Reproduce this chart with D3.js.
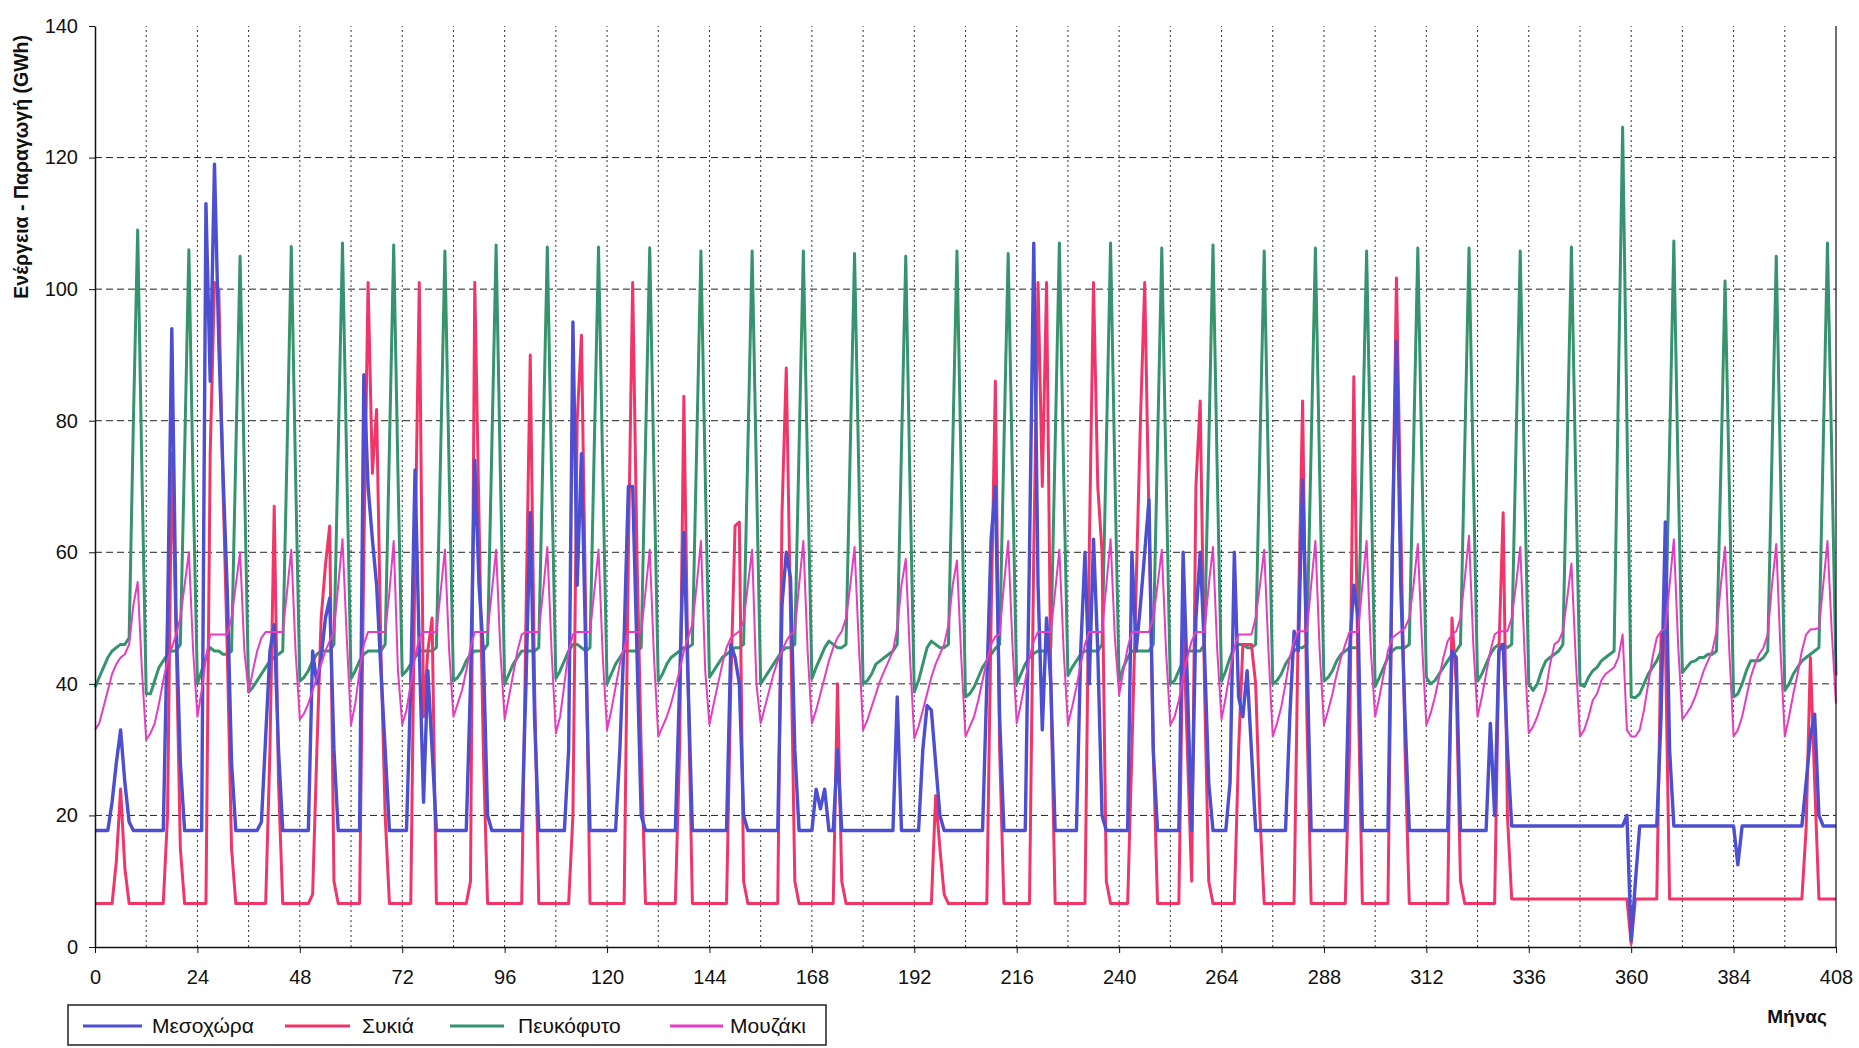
<!DOCTYPE html>
<html><head><meta charset="utf-8">
<script src="https://cdn.jsdelivr.net/npm/d3@7"></script>
<style>
body{margin:0;background:#fff;}
svg{display:block;}
text{font-family:"Liberation Sans",Arial,sans-serif;fill:#111;}
</style>
</head><body>
<svg id="chart" width="1859" height="1048"></svg>
<script>
const seriesNames = ["Μεσοχώρα", "Συκιά", "Πευκόφυτο", "Μουζάκι"];
const xTickLabels = [0,24,48,72,96,120,144,168,192,216,240,264,288,312,336,360,384,408];
const yTickLabels = [0,20,40,60,80,100,120,140];
const yTitle = "Ενέργεια - Παραγωγή (GWh)";
const xTitle = "Μήνας";

// monthly values, one row per year (12 months), months 0..408
const mesochora = [
17.7,17.7,17.7,17.7,22,28,33,25,19,17.7,17.7,17.7,
17.7,17.7,17.7,17.7,17.7,50,94,50,28,17.7,17.7,17.7,
17.7,17.7,113,86,119,92,72,54,28,17.7,17.7,17.7,
17.7,17.7,17.7,19,32,45,49,30,17.7,17.7,17.7,17.7,
17.7,17.7,17.7,45,40,44,50,53,30,17.7,17.7,17.7,
17.7,17.7,17.7,87,70,62,55,42,30,17.7,17.7,17.7,
17.7,17.7,40,72.5,45,22,42,30,17.7,17.7,17.7,17.7,
17.7,17.7,17.7,17.7,40,74,55,45,20,17.7,17.7,17.7,
17.7,17.7,17.7,17.7,17.7,40,66,35,17.7,17.7,17.7,17.7,
17.7,17.7,17.7,30,95,55,75,45,17.7,17.7,17.7,17.7,
17.7,17.7,17.7,30,47,70,70,45,20,17.7,17.7,17.7,
17.7,17.7,17.7,17.7,17.7,40,63,40,17.7,17.7,17.7,17.7,
17.7,17.7,17.7,17.7,17.7,46,44,40,20,17.7,17.7,17.7,
17.7,17.7,17.7,17.7,17.7,52,60,56,30,17.7,17.7,17.7,
17.7,24,21,24,17.7,17.7,30,17.7,17.7,17.7,17.7,17.7,
17.7,17.7,17.7,17.7,17.7,17.7,17.7,17.7,38,17.7,17.7,17.7,
17.7,17.7,30,36.7,36,28,20,17.7,17.7,17.7,17.7,17.7,
17.7,17.7,17.7,17.7,17.7,40,62,70,35,17.7,17.7,17.7,
17.7,17.7,17.7,60,107,55,33,50,40,17.7,17.7,17.7,
17.7,17.7,17.7,45,60,40,62,45,20,17.7,17.7,17.7,
17.7,17.7,17.7,60,45,52,60,68,30,17.7,17.7,17.7,
17.7,17.7,17.7,60,40,17.7,50,60,45,25,17.7,17.7,
17.7,17.7,25,60,38,35,42,30,17.7,17.7,17.7,17.7,
17.7,17.7,17.7,17.7,35,48,45,71,45,17.7,17.7,17.7,
17.7,17.7,17.7,17.7,17.7,17.7,45,55,50,17.7,17.7,17.7,
17.7,17.7,17.7,17.7,60,92,55,35,17.7,17.7,17.7,17.7,
17.7,17.7,17.7,17.7,17.7,17.7,45,44,17.7,17.7,17.7,17.7,
17.7,17.7,17.7,34,20,45,46,30,18.4,18.4,18.4,18.4,
18.4,18.4,18.4,18.4,18.4,18.4,18.4,18.4,18.4,18.4,18.4,18.4,
18.4,18.4,18.4,18.4,18.4,18.4,18.4,18.4,18.4,18.4,18.4,20,
1,10,18.4,18.4,18.4,18.4,18.4,35,64.6,30,18.4,18.4,
18.4,18.4,18.4,18.4,18.4,18.4,18.4,18.4,18.4,18.4,18.4,18.4,
18.4,12.5,18.4,18.4,18.4,18.4,18.4,18.4,18.4,18.4,18.4,18.4,
18.4,18.4,18.4,18.4,18.4,25,32,35.4,20,18.4,18.4,18.4,
18.4];

const sykia = [
6.6,6.6,6.6,6.6,6.6,13,24,12,6.6,6.6,6.6,6.6,
6.6,6.6,6.6,6.6,6.6,20,75,48,15,6.6,6.6,6.6,
6.6,6.6,6.6,75,101,100,70,45,15,6.6,6.6,6.6,
6.6,6.6,6.6,6.6,6.6,30,67,25,6.6,6.6,6.6,6.6,
6.6,6.6,6.6,8,30,50,58,64,10,6.6,6.6,6.6,
6.6,6.6,6.6,60,101,72,81.7,45,20,6.6,6.6,6.6,
6.6,6.6,6.6,60,101,35,45,50,6.6,6.6,6.6,6.6,
6.6,6.6,6.6,6.6,10,101,65,30,6.6,6.6,6.6,6.6,
6.6,6.6,6.6,6.6,6.6,50,90,40,6.6,6.6,6.6,6.6,
6.6,6.6,6.6,6.6,20,80,93,50,6.6,6.6,6.6,6.6,
6.6,6.6,6.6,6.6,6.6,60,101,60,30,6.6,6.6,6.6,
6.6,6.6,6.6,6.6,6.6,30,83.7,40,6.6,6.6,6.6,6.6,
6.6,6.6,6.6,6.6,6.6,40,64,64.6,10,6.6,6.6,6.6,
6.6,6.6,6.6,6.6,6.6,66,88,50,10,6.6,6.6,6.6,
6.6,6.6,6.6,6.6,6.6,6.6,40,10,6.6,6.6,6.6,6.6,
6.6,6.6,6.6,6.6,6.6,6.6,6.6,6.6,6.6,6.6,6.6,6.6,
6.6,6.6,6.6,6.6,6.6,23,15,8,6.6,6.6,6.6,6.6,
6.6,6.6,6.6,6.6,6.6,6.6,50,86,30,6.6,6.6,6.6,
6.6,6.6,6.6,6.6,60,101,70,101,40,6.6,6.6,6.6,
6.6,6.6,6.6,6.6,6.6,60,101,70,60,10,6.6,6.6,
6.6,6.6,6.6,30,55,80,101,65,30,6.6,6.6,6.6,
6.6,6.6,6.6,50,30,10,70,83,40,10,6.6,6.6,
6.6,6.6,6.6,6.6,30,46,46,46,40,20,6.6,6.6,
6.6,6.6,6.6,6.6,6.6,6.6,50,83,35,6.6,6.6,6.6,
6.6,6.6,6.6,6.6,6.6,6.6,30,86.7,40,6.6,6.6,6.6,
6.6,6.6,6.6,6.6,60,101.7,65,30,6.6,6.6,6.6,6.6,
6.6,6.6,6.6,6.6,6.6,6.6,50,40,10,6.6,6.6,6.6,
6.6,6.6,6.6,6.6,6.6,45,66,20,7.3,7.3,7.3,7.3,
7.3,7.3,7.3,7.3,7.3,7.3,7.3,7.3,7.3,7.3,7.3,7.3,
7.3,7.3,7.3,7.3,7.3,7.3,7.3,7.3,7.3,7.3,7.3,7.3,
0.5,7.3,7.3,7.3,7.3,7.3,7.3,47.5,47.5,7.3,7.3,7.3,
7.3,7.3,7.3,7.3,7.3,7.3,7.3,7.3,7.3,7.3,7.3,7.3,
7.3,7.3,7.3,7.3,7.3,7.3,7.3,7.3,7.3,7.3,7.3,7.3,
7.3,7.3,7.3,7.3,7.3,18,44,25,7.3,7.3,7.3,7.3,
7.3];

const pefkofyto = [
39.5,41,42.5,44,45,45.5,46,46,47,80,109,72,
38.5,38.5,40.5,42.5,43.5,44.5,45,45,46,75,106,70,
40,42,44,45.5,45,45,44.5,44.5,45,75,105,72,
38.75,39.5,40.5,41.5,42.5,43.5,44,44.5,45,75,106.5,72,
40.4,41,42,43.5,44.5,45,45,45,46,76,107,73,
40.8,42,43.5,44.5,45,45,45,45,46,76,106.7,72,
41.3,42,43,44,45,45,45,45,45.5,75,105.8,72,
40.4,41,42,43.5,44.5,45,45,45,46,76,106.7,72,
40,41.5,43,44,45,45,45,45,45.5,76,106.4,72,
40.8,42,43.5,45,46,46,45.5,45,45.5,76,106.4,72,
40,41.5,43,44,45,45,45,45,45.5,76,106.3,72,
40.4,41.5,43,44,44.5,45,45.5,45.5,46,76,105.8,72,
41,42,43,44,44.5,45,45.5,45.5,46,76,105.8,72,
40,41,42,43,44,45,45.5,45.5,46,76,105.8,72,
40.8,42.5,44,45.5,46.5,46,45.5,45.5,46,76,105.4,72,
40,40.5,41.5,43,43.5,44,44.5,45,46,76,105,70,
38.75,40.5,43,45.5,46.5,46,45.5,45.5,46,76,105.8,72,
38,38.5,39.5,41,42.5,43.5,44.5,45.4,46,76,105.4,72,
40,41.5,43,44,44.6,45,45,45,45.5,76,107,72,
41.25,42.5,43.5,44.5,45,45,45,45,46,76,107,72,
40.4,42.5,44,45,45,45,45,45,46,76,106.25,72,
40,40.5,42,43.5,45,45,45,45,46,76,106.7,72,
40.4,42,44,45.5,46,46,45.5,45.5,46,76,105.8,72,
40,40.5,41.5,43,44,45,45.5,45.5,46,76,106.25,72,
40.4,41,42,43.5,44.5,45,45.5,45.5,45.5,76,105.8,72,
39.6,41,42.5,44,45,45.5,45.5,45.5,46,76,106.25,72,
41,40,40.5,41.5,42.5,43.5,44.5,45,46,76,106.25,72,
40.4,41.5,43,44.5,45.5,46,46,45.5,46,76,105.8,72,
40,39,40,42,43.5,44,44.5,45,46,76,106.4,72,
40,39.6,41,42,42.5,43.5,44,44.5,45,85,124.6,80,
38,37.9,38.5,40,41.5,42.5,43.5,45,46,76,107.3,72,
41.7,42.5,43.3,43.5,44,44,44.5,44.5,45,72,101.25,70,
38,38.5,40,42,43.5,43.5,43.5,44,45,75,105,72,
39,40,41.5,42.5,43.5,44,44.5,45,45.5,76,107,75,
41.25];

const mouzaki = [
33,34,36.5,39,41.5,43,44,44.5,46,52,55.5,42,
31.5,32.5,34,37,40.5,43.5,45.5,47.5,50,55,60,45,
35,39,44,47.5,47.5,47.5,47.5,47.5,50,55,60,45,
38.7,42,45,47,47.9,47.9,47.9,47.9,47.9,54,60.4,45,
34.6,35.5,37,39,41,43,45,46.5,48,55,62,47,
33.8,37,42,46,47.9,47.9,47.9,47.9,47.9,54,61.7,42,
33.8,36,40,44,47,47.9,47.9,47.9,47.9,54,60.4,45,
35,37,39,42,45.5,47.9,47.9,47.9,47.9,54,60.4,45,
34.6,38,41.5,45,47.5,47.9,47.9,47.9,47.9,54,60.8,45,
32.5,35,40,45,47.5,47.9,47.9,47.9,47.9,54,60.4,44,
33,36,39.5,43,45.5,47.9,47.9,47.9,47.9,54,60.4,44,
32,33.5,35,37,39.5,42,45,47,49,55,61.7,42,
33.8,37,40,43,45.5,47,47.5,48,49.5,55,60.4,40,
34,36.5,39,41.5,43.5,45,46.5,47.5,48,55,61.7,45,
34,36,38.5,41,43.5,45.5,47,48,50,55,60.8,46,
33,34.5,36.5,38.5,40.5,42,43.5,45,48.5,55,59,44,
31.7,33.5,36,38.5,41,43,44.5,46,49,55,58.75,44,
32,33.5,35,37.5,40.5,43.5,46,47.2,47.5,55,61.7,46,
34,37,40.5,44,46.5,47.9,47.9,47.9,47.9,54,60.4,45,
33.8,36.5,39.5,43,46,47.9,47.9,47.9,47.9,55,62,47,
38.3,42,45.5,47.9,47.9,47.9,47.9,47.9,50,55,60.4,45,
33.75,35,37.5,41,44,46.5,47.9,47.9,47.9,55,60.8,45,
34.6,38,42,45.5,47.5,47.5,47.5,47.5,50,55,60.4,45,
32,34,36.5,40,44,46.5,48,48,48,55,61.7,45,
33.75,36,38.5,41.5,44,46,47.9,47.9,47.9,55,61.7,45,
35,38,41.5,45,47,47.5,48,48.5,50,55,61.25,46,
33.75,35.5,38,41,44,46.5,47.5,48,50,56,62.5,46,
35,38,41.5,45,47.5,48,48,48,50,55,60.8,45,
32.5,33.5,35,37,39,43,46,46.5,48,53,58.3,44,
32,33,35,37.5,38.5,40.5,41.5,42,42.5,44,47.5,33,
32,32,33,36,40,44,47,48,48.5,55,62,46,
34.6,35.5,36.5,38,40,42,43.5,45,48,55,60.8,45,
32,33,35,38,41,43,44.5,45.5,47.5,55,61.25,45,
32,35,38.5,41.5,45,47.5,48.3,48.3,48.5,55,61.7,48,
37];

const seriesColors = ["#4b4fd0", "#f23568", "#35946e", "#e63cc4"];
const seriesWidths = [3.4, 3, 3, 2];
const seriesData = [mesochora, sykia, pefkofyto, mouzaki];
const drawOrder = [2, 1, 0, 3];

const svg = d3.select("#chart");
svg.append("rect").attr("width",1859).attr("height",1048).attr("fill","#fff");

const x = d3.scaleLinear().domain([0, 408]).range([95, 1836]);
const y = d3.scaleLinear().domain([0, 140]).range([947, 26]);

// horizontal dashed gridlines
svg.append("g").selectAll("line")
  .data(yTickLabels.filter(v => v > 0 && v < 140))
  .join("line")
  .attr("x1", x(0)).attr("x2", x(408))
  .attr("y1", d => y(d)).attr("y2", d => y(d))
  .attr("stroke", "#222").attr("stroke-width", 1)
  .attr("stroke-dasharray", "7,4");

// vertical dotted gridlines every 12 months
svg.append("g").selectAll("line")
  .data(d3.range(12, 408, 12))
  .join("line")
  .attr("x1", d => x(d)).attr("x2", d => x(d))
  .attr("y1", y(0)).attr("y2", y(140))
  .attr("stroke", "#333").attr("stroke-width", 1)
  .attr("stroke-dasharray", "2,3");

// series lines
const line = d3.line().x((d, i) => x(i)).y(d => y(d)).curve(d3.curveLinear);
drawOrder.forEach(k => {
  svg.append("path")
    .datum(seriesData[k])
    .attr("fill", "none")
    .attr("stroke", seriesColors[k])
    .attr("stroke-width", seriesWidths[k])
    .attr("stroke-linejoin", "round")
    .attr("d", line);
});

// axes
const xAxis = d3.axisBottom(x).tickValues(xTickLabels).tickSize(6).tickSizeOuter(0).tickPadding(17);
const gx = svg.append("g").attr("transform", `translate(0,${y(0)})`).call(xAxis);
gx.select(".domain").attr("stroke", "#111").attr("stroke-width", 1.5);
gx.selectAll(".tick line").attr("stroke", "#111");
gx.selectAll("text").attr("font-size", 20).attr("fill", "#111");

const yAxis = d3.axisLeft(y).tickValues(yTickLabels).tickSize(6).tickSizeOuter(0).tickPadding(11);
const gy = svg.append("g").attr("transform", `translate(${x(0)},0)`).call(yAxis);
gy.select(".domain").attr("stroke", "#111").attr("stroke-width", 1.5);
gy.selectAll(".tick line").attr("stroke", "#111");
gy.selectAll("text").attr("font-size", 20).attr("fill", "#111");

// right border
svg.append("line").attr("x1", x(408)).attr("x2", x(408)).attr("y1", y(0)).attr("y2", y(140))
  .attr("stroke", "#111").attr("stroke-width", 1.2);

// axis titles
svg.append("text").attr("transform", "translate(28,35) rotate(-90)")
  .attr("text-anchor", "end").attr("font-size", 19.5).attr("font-weight", "bold")
  .text(yTitle);
svg.append("text").attr("x", 1797).attr("y", 1023)
  .attr("text-anchor", "middle").attr("font-size", 19).attr("font-weight", "bold")
  .text(xTitle);

// legend
const lg = svg.append("g");
lg.append("rect").attr("x", 68).attr("y", 1005).attr("width", 758).attr("height", 40)
  .attr("fill", "#fff").attr("stroke", "#222").attr("stroke-width", 1.5);
const legendPos = [
  {l1: 83, l2: 142, tx: 152},
  {l1: 285, l2: 350, tx: 362},
  {l1: 450, l2: 504, tx: 518},
  {l1: 670, l2: 723, tx: 730}
];
seriesNames.forEach((name, k) => {
  const p = legendPos[k];
  lg.append("line").attr("x1", p.l1).attr("x2", p.l2).attr("y1", 1026).attr("y2", 1026)
    .attr("stroke", seriesColors[k]).attr("stroke-width", 3);
  lg.append("text").attr("x", p.tx).attr("y", 1033).attr("font-size", 21).text(name);
});
</script>
</body></html>
